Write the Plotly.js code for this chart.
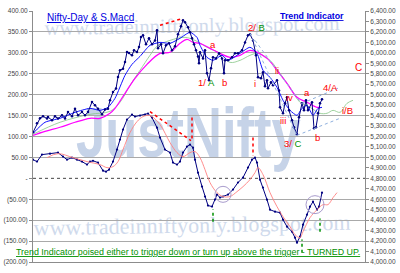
<!DOCTYPE html>
<html><head><meta charset="utf-8">
<script src="https://cdn.plot.ly/plotly-3.0.1.min.js"></script>
<style>html,body{margin:0;padding:0;background:#fff}#chart{width:400px;height:273px}</style>
</head><body><div id="chart"></div>
<script>
// ---- data (x = session index) ----
const xPrice = [0,4,7,10,14,15,19,22,25,29,32,35,39,42,45,49,52,55,59,62,65,69,72,75,77,80,83,85,87,90,92,94,96,99,101,104,106,108,110,113,116,119,122,124,125,128,130,133,136,139,142,145,148,150,152,155,157,159,161,163,165,166,167,170,172,174,176,178,180,183,186,189,191,192,195,199,202,205,209,212,215,217,220,223,225,228,230,232,234,235,238,240,244,246,247,250,252,254,256,259,261,264,266,269,271,273,275,279,281,283,285,287,289];
const price = [5240,5326,5374,5393,5371,5386,5355,5393,5371,5402,5371,5434,5393,5466,5402,5434,5402,5434,5530,5498,5466,5412,5457,5466,5546,5625,5658,5769,5833,5849,5912,6008,5998,5976,6024,6008,6055,6151,6167,6081,6139,6081,6119,6215,6043,6081,5995,6072,6091,6024,6062,6177,6253,6311,6292,6244,6196,6139,6081,6024,5966,5900,6005,5947,6024,5804,5737,5852,5957,5947,5995,5947,5804,5928,5928,5957,5995,5995,6024,6100,6167,6177,6119,5976,5766,5756,5814,5680,5737,5661,5718,5689,5737,5641,5479,5422,5517,5575,5450,5355,5288,5221,5383,5517,5450,5546,5450,5527,5278,5288,5422,5517,5555];

const xBlue = [0,12,27,42,57,67,75,82,92,99,107,117,127,137,147,157,164,167,174,180,189,195,207,217,224,230,237,244,250,257,264,269,274,280,285,289];
const maBlue = [5230,5336,5374,5431,5469,5450,5479,5565,5785,5890,5966,6072,6100,6091,6139,6196,6148,6072,5957,5928,5976,5928,5995,6053,5995,5833,5766,5670,5546,5450,5402,5469,5498,5402,5469,5479];

const xMag = [0,12,27,42,57,67,77,82,92,102,114,127,137,147,154,160,167,177,187,197,207,217,234,244,254,264,274,284,287];
const maMag = [5211,5249,5288,5336,5374,5374,5422,5469,5613,5756,5890,5995,6005,6091,6129,6100,6091,6043,5995,5957,5976,6024,5947,5833,5708,5575,5527,5479,5479];

const xGreen = [0,27,57,77,87,97,107,117,124,137,152,162,174,187,197,207,217,225,237,247,257,267,277,287,294,300,307,314,320];
const maGreen = [5221,5336,5412,5441,5527,5689,5833,5976,6062,6119,6148,6119,6053,5995,5909,5928,5976,5995,5928,5804,5670,5527,5479,5422,5422,5450,5431,5517,5546];

const xMacd = [0,4,9,17,25,30,34,39,44,49,54,57,60,65,70,73,76,80,84,87,90,94,99,102,107,112,115,119,124,127,132,137,140,144,147,150,154,157,160,162,165,169,172,175,179,182,184,187,190,195,200,205,210,215,219,222,224,227,230,234,237,242,247,250,254,259,262,264,267,270,274,277,280,284,286,289];
const macd = [44.7,40,56.7,59,61.5,52,44.7,49.5,44.7,40,32.8,40,42,37.6,18.4,16,20.8,40,68.7,92.6,116.5,140.4,152.4,147.6,150,152.4,154.8,145.2,121.2,97.4,68.7,61.5,37.6,32.8,40,61.5,75.8,80.6,73.4,44.7,13.6,-19.6,-43.5,-65,-67.5,-50.7,-38.8,-46,-43.5,-38.8,-26.8,-10,1.7,25.6,44.7,49.5,37.6,-3.1,-22.2,-50.9,-74.9,-79.7,-82,-98.8,-115.5,-127.5,-141.8,-153.8,-139.5,-110.8,-86.9,-67.7,-55.7,-74.9,-67.7,-34.2];

const xSignal = [14,25,40,54,67,74,80,85,90,97,104,110,117,127,137,144,150,157,162,167,172,177,184,190,197,204,210,217,222,225,230,237,244,250,257,262,267,270,277,284,290,295,300,304];
const signal = [49.5,59,49.5,40,32.8,25.6,28,40,68.7,109.3,135.6,147.6,150,128.5,85.4,61.5,51.9,61.5,63.9,49.5,20.8,-10.3,-34.2,-43.5,-43.5,-31.8,-19.9,-3.1,13.6,25.6,8.9,-34.2,-67.7,-91.6,-115.5,-134.7,-141.8,-127.5,-94,-74.9,-62.9,-62.9,-46.2,-34.2];

const leftTicks = [-200,-150,-100,-50,0,50,100,150,200,250,300,350,400];
const leftLabels = ['(200.00)','(150.00)','(100.00)','(50.00)','-','50.00','100.00','150.00','200.00','250.00','300.00','350.00','400.00'];
const gridVals = [-150,-100,-50,50,100,150,200,250,300,350];
const rightTicks = [4000,4100,4200,4300,4400,4500,4600,4700,4800,4900,5000,5100,5200,5300,5400,5500,5600,5700,5800,5900,6000,6100,6200,6300,6400];

// ---- traces ----
const data = [
  {x:xGreen, y:maGreen, yaxis:'y2', mode:'lines', line:{color:'#86c686', width:0.8, shape:'spline'}},
  {x:xMag, y:maMag, yaxis:'y2', mode:'lines', line:{color:'#ff00ff', width:1.2, shape:'spline'}},
  {x:xBlue, y:maBlue, yaxis:'y2', mode:'lines', line:{color:'#1010ff', width:1, shape:'spline', smoothing:0.6}},
  {x:xPrice, y:price, yaxis:'y2', mode:'lines+markers', line:{color:'#000080', width:1}, marker:{size:2.5, color:'#000080'}},
  {x:xSignal, y:signal, yaxis:'y3', mode:'lines', line:{color:'#ff8080', width:0.9, shape:'spline'}},
  {x:xMacd, y:macd, yaxis:'y', mode:'lines+markers', line:{color:'#000080', width:1}, marker:{size:2.2, color:'#000080'}}
];

const RED = '#ff0000', GRN = '#009000';
function lab(t, x, y, size){ return {text:t, x:x, y:y, xref:'x', yref:'y2', xanchor:'center', yanchor:'middle', showarrow:false, font:{size:size||9.5, color:RED}}; }
function head(x, y, col, up){ return {text:' ', x:x, y:y, xref:'x', yref:'y', showarrow:true, arrowhead:2, arrowsize:1, arrowwidth:1.4, arrowcolor:col, ax:0, ay: up?7:-7, standoff:0}; }
function note(t, x, y, size, col, anchor){ return {text:t, xref:'paper', yref:'paper', x:x, y:y, xanchor:anchor||'center', yanchor:'middle', showarrow:false, font:{size:size, color:col}}; }

const annotations = [
  note('<u>Nifty-Day & S.Macd</u>', 0.036, 0.976, 10, '#0000e0', 'left'),
  note('<u><b>Trend Indicator</b></u>', 0.840, 0.982, 8.8, '#0000e0'),
  note('<u>Trend Indicator poised either to trigger down or turn up above the trigger - TURNED UP.</u>', 0.467, 0.040, 8.9, GRN),
  lab('a', 180, 6081),
  lab('<span style="color:#ff0000">1/</span> <span style="color:#009000">A</span>', 173, 5718),
  lab('b', 191, 5718),
  lab('<span style="color:#ff0000">2/</span> <span style="color:#009000">B</span>', 223, 6244),
  lab('i', 222, 5708),
  lab('ii', 244, 5833),
  lab('iii', 250, 5355),
  lab('iv', 256, 5575),
  lab('a', 274, 5622),
  lab('b', 284, 5192),
  lab('<span style="color:#ff0000">3/</span> <span style="color:#009000">C</span>', 260, 5135),
  lab('4/A', 297, 5670),
  lab('i/B', 314, 5450),
  lab('C', 325, 5861, 10),
  head(159, 87.8, RED, false),
  head(220, 49.5, RED, false),
  head(180, -70, GRN, true),
  head(269, -141.8, GRN, true),
  head(287, -91.6, GRN, true)
];

function wm(t, cx, cy, fam, size, col, ang){
  return {type:'rect', xref:'paper', yref:'paper', x0:cx-0.005, x1:cx+0.005, y0:cy-0.005, y1:cy+0.005, layer:'below',
    line:{width:0, color:'rgba(0,0,0,0)'}, fillcolor:'rgba(0,0,0,0)',
    label:{text:t, textposition:'middle center', textangle:ang||0, font:{family:fam, size:size, color:col}}};
}
const SANS = 'Liberation Sans, Arial, sans-serif', SERIF = 'Liberation Serif, Times New Roman, serif';
const dotR = {color:RED, width:1.5, dash:'dot'};
const dotG = {color:GRN, width:1.5, dash:'dot'};
const chan = {color:'#8fb0de', width:1, dash:'dot'};
const shapes = [
  wm('<b>JustNifty</b>', 0.468, 0.542, SANS, 70, '#c6d3e8', 0),
  wm('www.tradeinniftyonly.blogspot.com', 0.479, 0.950, SERIF, 20.5, '#cfdaec', -1),
  wm('www.tradeinniftyonly.blogspot.com', 0.479, 0.155, SERIF, 22, '#cfdaec', -1),
  {type:'line', xref:'paper', x0:0, x1:1, yref:'y', y0:0, y1:0, layer:'below', line:{color:'#444', width:1, dash:'dot'}},
  {type:'line', xref:'x', yref:'y2', x0:127, x1:150, y0:6263, y1:6330, line:dotR},
  {type:'line', xref:'x', yref:'y', x0:117, x1:158, y0:159.5, y1:90.2, line:dotR},
  {type:'line', xref:'x', yref:'y', x0:159, x1:159, y0:145.2, y1:92, line:dotR},
  {type:'line', xref:'x', yref:'y', x0:220, x1:220, y0:97.4, y1:54, line:dotR},
  {type:'line', xref:'x', yref:'y', x0:180, x1:180, y0:-103.7, y1:-74, line:dotG},
  {type:'line', xref:'x', yref:'y', x0:269, x1:269, y0:-177.7, y1:-146, line:dotG},
  {type:'line', xref:'x', yref:'y', x0:287, x1:287, y0:-127.5, y1:-96, line:dotG},
  {type:'circle', xref:'x', yref:'y', x0:182, x1:198, y0:-57.4, y1:-19.1, line:{color:'#a99ccd', width:1}},
  {type:'circle', xref:'x', yref:'y', x0:273, x1:291, y0:-84.4, y1:-41.4, line:{color:'#a99ccd', width:1}},
  {type:'line', xref:'x', yref:'y2', x0:217, x1:264, y0:6186, y1:5211, line:chan},
  {type:'line', xref:'x', yref:'y2', x0:222, x1:269, y0:6119, y1:5508, line:chan},
  {type:'line', xref:'x', yref:'y2', x0:264, x1:307, y0:5211, y1:5374, line:chan},
  {type:'line', xref:'x', yref:'y2', x0:269, x1:307, y0:5517, y1:5670, line:chan}
];

const axLine = '#8c8c8c';
const layout = {
  width:400, height:273,
  margin:{l:33, r:35, t:11, b:11, pad:0},
  paper_bgcolor:'#ffffff', plot_bgcolor:'rgba(0,0,0,0)',
  font:{family:SANS},
  showlegend:false, hovermode:false,
  xaxis:{range:[0,332], showgrid:false, zeroline:false, showline:true, linecolor:axLine, linewidth:1, showticklabels:false, ticks:''},
  yaxis:{range:[-200,400], tickvals:leftTicks, ticktext:leftLabels, showgrid:false, zeroline:false, showline:true, linecolor:axLine, linewidth:1, ticks:'outside', ticklen:3, tickcolor:axLine, tickfont:{size:6.5, color:'#444'}},
  yaxis2:{overlaying:'y', side:'right', range:[4000,6400], tickvals:rightTicks, tickformat:',.2f', showgrid:false, zeroline:false, showline:true, linecolor:axLine, linewidth:1, ticks:'outside', ticklen:3, tickcolor:axLine, tickfont:{size:6.5, color:'#444'}},
  yaxis3:{overlaying:'y', side:'left', range:[-200,400], tickvals:gridVals, showticklabels:false, showgrid:true, gridcolor:'#a9a9a9', gridwidth:1, zeroline:false, showline:false, ticks:''},
  annotations:annotations,
  shapes:shapes
};

// narrow the big watermark word horizontally (the reference uses a condensed face)
function squeeze(){
  document.querySelectorAll('#chart text').forEach(function(t){
    if(t.textContent === 'JustNifty' && !t.getAttribute('data-sq')){
      var bb = t.getBBox(); var cx = bb.x + bb.width/2;
      var old = t.getAttribute('transform') || '';
      t.setAttribute('transform', old + ' translate(' + cx + ',0) scale(0.75,1) translate(' + (-cx) + ',0)');
      t.setAttribute('data-sq', '1');
    }
  });
}
var gdiv = document.getElementById('chart');
Plotly.newPlot(gdiv, data, layout, {staticPlot:true}).then(function(gd){
  squeeze();
  gd.on('plotly_afterplot', squeeze);
  setTimeout(squeeze, 50);
});
</script>
</body></html>
